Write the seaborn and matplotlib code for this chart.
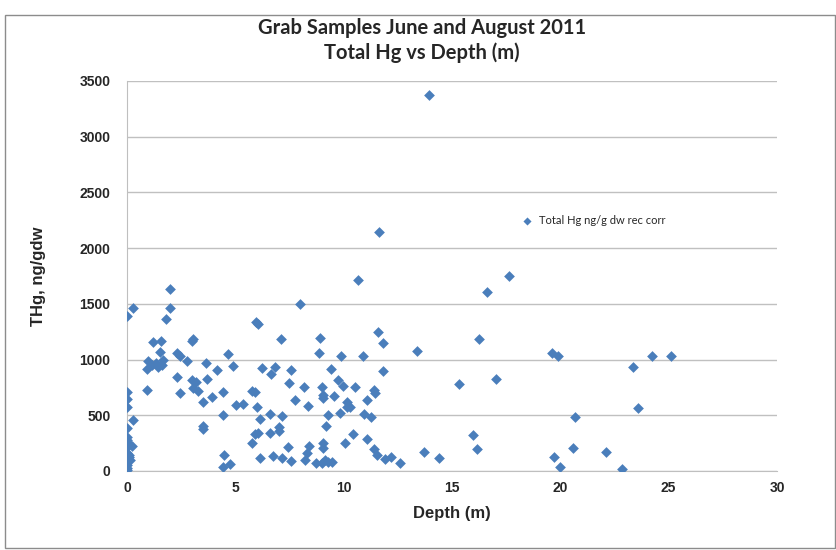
import matplotlib
matplotlib.use('Agg')
import matplotlib.pyplot as plt
import seaborn as sns
import pandas as pd
from matplotlib.patches import Rectangle

# Depth (m) and total Hg (ng/gdw)
depth = [
    0, 0.29, 0, 0, 0, 0.29, 0, 0, 0, 0.05, 0.22, 0, 0, 0.1, 0.15, 0, 0, 0, 0, 0.1,
    1.98, 2.0, 1.8, 1.18, 1.55, 3.03, 3.0, 1.52, 2.29, 2.45, 4.68, 0.98, 1.14, 0.91,
    1.45, 1.68, 1.35, 1.6, 2.78, 3.65, 4.88, 4.17, 2.29, 3.68, 2.98, 3.2, 3.03, 3.29,
    4.42, 0.91, 2.45, 3.91, 3.49, 5.03, 5.34, 4.45, 3.49, 3.49, 4.48, 4.42, 4.75,
    7.98, 5.95, 6.06, 7.09, 8.91, 8.88, 9.86, 6.22, 6.83, 6.65, 7.57, 9.4, 7.49, 9.75,
    9.95, 10.52, 8.17, 8.98, 9.03, 9.03, 9.57, 5.75, 5.91, 7.75, 10.14, 8.37, 10.17,
    6.01, 9.83, 9.29, 6.6, 7.14, 6.14, 7.03, 7.03, 9.17, 5.9, 6.05, 6.6, 10.42, 5.75,
    10.06, 9.06, 8.41, 7.44, 9.06, 8.32, 6.14, 6.75, 7.14, 7.57, 8.21, 8.72, 9.14,
    9.29, 8.98, 9.45,
    13.94, 11.64, 10.67, 16.6, 11.57, 11.83, 16.26, 10.88, 13.4, 11.8, 11.4, 11.44,
    11.09, 10.29, 10.94, 11.25, 15.34, 17.03, 11.1, 15.98, 11.38, 11.54, 11.9, 12.17,
    12.6, 13.7, 14.41, 16.17,
    17.64, 19.6, 19.9, 24.21, 25.09, 23.34, 23.6, 20.67, 20.57, 22.1, 19.7, 19.99, 22.83,
]
thg = [
    1394, 1460, 712, 643, 577, 458, 383, 308, 278, 248, 227, 218, 159, 128, 99, 84, 54, 24, 5, 140,
    1630, 1460, 1361, 1160, 1169, 1185, 1165, 1065, 1062, 1032, 1050, 987, 951, 913,
    936, 996, 965, 950, 990, 972, 945, 906, 841, 823, 817, 801, 742, 721,
    706, 727, 697, 661, 616, 592, 601, 502, 407, 377, 144, 39, 60,
    1496, 1340, 1316, 1182, 1196, 1056, 1032, 927, 930, 868, 906, 912, 787, 817,
    763, 757, 751, 757, 682, 652, 673, 718, 712, 637, 622, 586, 571,
    571, 523, 502, 508, 496, 464, 398, 362, 407, 332, 338, 344, 329, 248,
    248, 254, 224, 218, 204, 159, 114, 135, 120, 90, 99, 75, 99,
    84, 69, 84,
    3374, 2148, 1714, 1609, 1250, 1151, 1182, 1035, 1080, 900, 727, 697,
    637, 577, 512, 487, 778, 826, 284, 323, 195, 144, 105, 128,
    75, 173, 114, 195,
    1753, 1062, 1032, 1032, 1032, 931, 563, 482, 209, 173, 128, 33, 15,
]

df = pd.DataFrame({'Depth': depth, 'THg': thg})

sns.set_style('white')
plt.rcParams['font.family'] = ['Liberation Sans', 'DejaVu Sans']

fig = plt.figure(figsize=(8.37, 5.5), dpi=100)
ax = fig.add_axes([127/837, 1 - 471/550, 650/837, 390/550])

sns.scatterplot(data=df, x='Depth', y='THg', marker='D', s=30, color='#4a7ebb',
                linewidth=0, ax=ax, label='Total Hg ng/g dw rec corr', zorder=3)

ax.set_xlim(0, 30)
ax.set_ylim(0, 3500)
ax.set_xticks(range(0, 31, 5))
ax.set_yticks(range(0, 3501, 500))
ax.yaxis.grid(True, color='#c0c0c0', lw=1)
ax.set_axisbelow(True)
for s in ['top', 'right']:
    ax.spines[s].set_visible(False)
for s in ['left', 'bottom']:
    ax.spines[s].set_color('#bfbfbf')
ax.tick_params(axis='y', length=0, pad=12, labelsize=10)
ax.tick_params(axis='x', length=4, color='#bfbfbf', pad=3, labelsize=10, direction='out')
for lab in ax.get_xticklabels() + ax.get_yticklabels():
    lab.set_fontweight('bold')

ax.set_xlabel('Depth (m)', fontsize=12, fontweight='bold', labelpad=8)
ax.set_ylabel('THg, ng/gdw', fontsize=12, fontweight='bold', labelpad=24)

fig.text(0.504, 0.949, 'Grab Samples June and August 2011', ha='center', va='center',
         fontsize=14.5, fontweight='bold', family='Lato')
fig.text(0.504, 0.905, 'Total Hg vs Depth (m)', ha='center', va='center',
         fontsize=14.5, fontweight='bold', family='Lato')

leg = ax.legend(loc='center left', bbox_to_anchor=(510/837, 1 - 220/550),
                bbox_transform=fig.transFigure, frameon=False, handletextpad=0.1,
                borderpad=0, markerscale=0.75, prop={'family': 'Lato', 'size': 8})

fig.patches.append(Rectangle((5/837, 2/550), 830/837, 533/550, transform=fig.transFigure,
                             fill=False, edgecolor='#8c8c8c', lw=1))

plt.savefig('out.png', dpi=100)
